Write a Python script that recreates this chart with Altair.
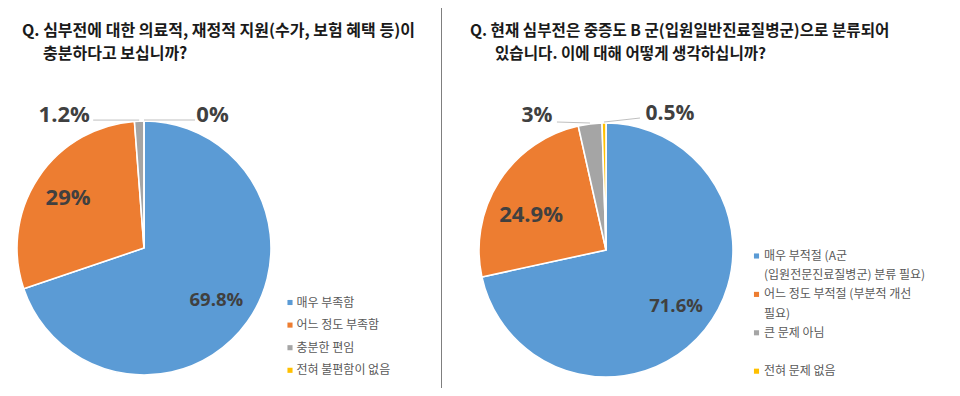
import altair as alt
import pandas as pd

# ---------------- data ----------------
left_title = ["Q. 심부전에 대한 의료적, 재정적 지원(수가, 보험 혜택 등)이", "충분하다고 보십니까?"]
left_categories = ["매우 부족함", "어느 정도 부족함", "충분한 편임", "전혀 불편함이 없음"]
left_values = [69.8, 29.0, 1.2, 0.0]
left_labels = ["69.8%", "29%", "1.2%", "0%"]

right_title = ["Q. 현재 심부전은 중증도 B 군(입원일반진료질병군)으로 분류되어", "있습니다. 이에 대해 어떻게 생각하십니까?"]
right_categories = ["매우 부적절 (A군 (입원전문진료질병군) 분류 필요)", "어느 정도 부적절 (부분적 개선 필요)", "큰 문제 아님", "전혀 문제 없음"]
right_values = [71.6, 24.9, 3.0, 0.5]
right_labels = ["71.6%", "24.9%", "3%", "0.5%"]
right_legend_lines = [
    ["매우 부적절 (A군", "(입원전문진료질병군) 분류 필요)"],
    ["어느 정도 부적절 (부분적 개선", "필요)"],
    ["큰 문제 아님", ""],
    ["전혀 문제 없음"],
]

palette = ["#5B9BD5", "#ED7D31", "#A5A5A5", "#FFC000"]

# ---------------- styling ----------------
W, H = 944, 380
R = 127
KFONT = "Noto Sans CJK KR"
NFONT = "Open Sans"
LABEL_COLOR = "#404040"
LEGEND_COLOR = "#595959"

color_scale = alt.Scale(domain=left_categories + right_categories, range=palette + palette)


def title_layer(lines, x0, indent, y0, step, size):
    df = pd.DataFrame({"t": lines, "i": list(range(len(lines)))})
    return alt.Chart(df).transform_calculate(
        px=f"{x0} + (datum.i > 0 ? {indent} : 0)",
        py=f"{y0} + datum.i * {step}",
    ).mark_text(align="left", baseline="middle", font=KFONT, fontSize=size,
                fontWeight="bold", color="#1a1a1a").encode(
        x=alt.X("px:Q", scale=None, axis=None),
        y=alt.Y("py:Q", scale=None, axis=None),
        text="t:N",
    )


def pie_layers(cats, values, labels, cx, cy, styles):
    df = pd.DataFrame({"cat": cats, "value": values, "label": labels,
                       "idx": list(range(len(cats)))})
    base = alt.Chart(df)
    layers = [
        base.mark_arc(outerRadius=R, stroke="white", strokeWidth=1.6).encode(
            theta=alt.Theta("value:Q", stack=True),
            order=alt.Order("idx:Q"),
            color=alt.Color("cat:N", scale=color_scale, legend=None),
            x=alt.value(cx),
            y=alt.value(cy),
        )
    ]
    mids = base.transform_window(
        cum="sum(value)", sort=[alt.SortField("idx")], frame=[None, 0]
    ).transform_joinaggregate(total="sum(value)").transform_calculate(
        mid="(datum.cum - datum.value / 2) / datum.total * 2 * PI"
    )
    for i, st in enumerate(styles):
        sel = mids.transform_filter(f"datum.idx == {i}").transform_calculate(
            px=f"{cx} + {st['r']} * sin(datum.mid) + {st.get('dx', 0)}",
            py=f"{cy} - {st['r']} * cos(datum.mid) + {st.get('dy', 0)}",
        )
        layers.append(
            sel.mark_text(align="center", baseline="middle", font=NFONT,
                          fontSize=st["size"], fontWeight="bold",
                          color=LABEL_COLOR).encode(
                x=alt.X("px:Q", scale=None, axis=None),
                y=alt.Y("py:Q", scale=None, axis=None),
                text="label:N",
            )
        )
        if "lx" in st:
            line = mids.transform_filter(f"datum.idx == {i}").transform_calculate(
                ax=f"{cx} + {R + 1} * sin(datum.mid)",
                ay=f"{cy} - {R + 1} * cos(datum.mid)",
            ).transform_calculate(
                bx=f"datum.ax + {st['lx']}",
                by=f"datum.ay + {st.get('ly', 0)}",
            )
            layers.append(
                line.mark_rule(color="#BFBFBF", strokeWidth=1).encode(
                    x=alt.X("ax:Q", scale=None, axis=None),
                    y=alt.Y("ay:Q", scale=None, axis=None),
                    x2="bx:Q",
                    y2="by:Q",
                )
            )
    return layers


def legend_layers(item_lines, cats, sym_x, text_x, y0, step):
    rows = []
    slot = 0
    for k, lines in enumerate(item_lines):
        for j, t in enumerate(lines):
            rows.append({"t": t, "cat": cats[k], "first": j == 0, "slot": slot})
            slot += 1
    df = pd.DataFrame(rows)
    base = alt.Chart(df).transform_calculate(py=f"{y0} + datum.slot * {step}")
    txt = base.mark_text(align="left", baseline="middle", font=KFONT,
                         fontSize=12, color=LEGEND_COLOR).encode(
        x=alt.value(text_x),
        y=alt.Y("py:Q", scale=None, axis=None),
        text="t:N",
    )
    sym = base.transform_filter("datum.first").mark_square(size=26, opacity=1).encode(
        x=alt.value(sym_x),
        y=alt.Y("py:Q", scale=None, axis=None),
        color=alt.Color("cat:N", scale=color_scale, legend=None),
    )
    return [sym, txt]


left_styles = [
    dict(r=89, size=18.5),
    dict(r=91, size=22),
    dict(r=127, dx=-75, dy=-6.5, size=22, lx=-46),
    dict(r=127, dx=68.5, dy=-6.5, size=22, lx=51),
]
right_styles = [
    dict(r=90, size=18.5),
    dict(r=83, dx=-5, dy=10, size=22),
    dict(r=127, dx=-53, dy=-8.5, size=21, lx=-33, ly=-1),
    dict(r=127, dx=66, dy=-9, size=21, lx=36, ly=-4),
]

layers = []
layers.append(title_layer(left_title, 14, 21, 23, 22.5, 16))
layers.append(title_layer(right_title, 462, 25, 23, 22.5, 15.6))
layers += pie_layers(left_categories, left_values, left_labels, 136, 240, left_styles)
layers += pie_layers(right_categories, right_values, right_labels, 598, 242, right_styles)
layers += legend_layers([[c] for c in left_categories], left_categories, 282, 288.5, 294.5, 22.6)
layers += legend_layers(right_legend_lines, right_categories, 748.5, 756, 248, 19.2)

divider = alt.Chart(pd.DataFrame({"d": [0]})).mark_rule(color="#7F7F7F", strokeWidth=1).encode(
    x=alt.value(433.5), y=alt.value(0), y2=alt.value(H)
)
layers.append(divider)

chart = alt.layer(*layers).resolve_scale(theta="independent").properties(
    width=W, height=H, padding=0, autosize=alt.AutoSizeParams(type="none"),
    background="white",
).configure_view(stroke=None)

chart.save("out.html", embed_options={"renderer": "svg", "actions": False})
